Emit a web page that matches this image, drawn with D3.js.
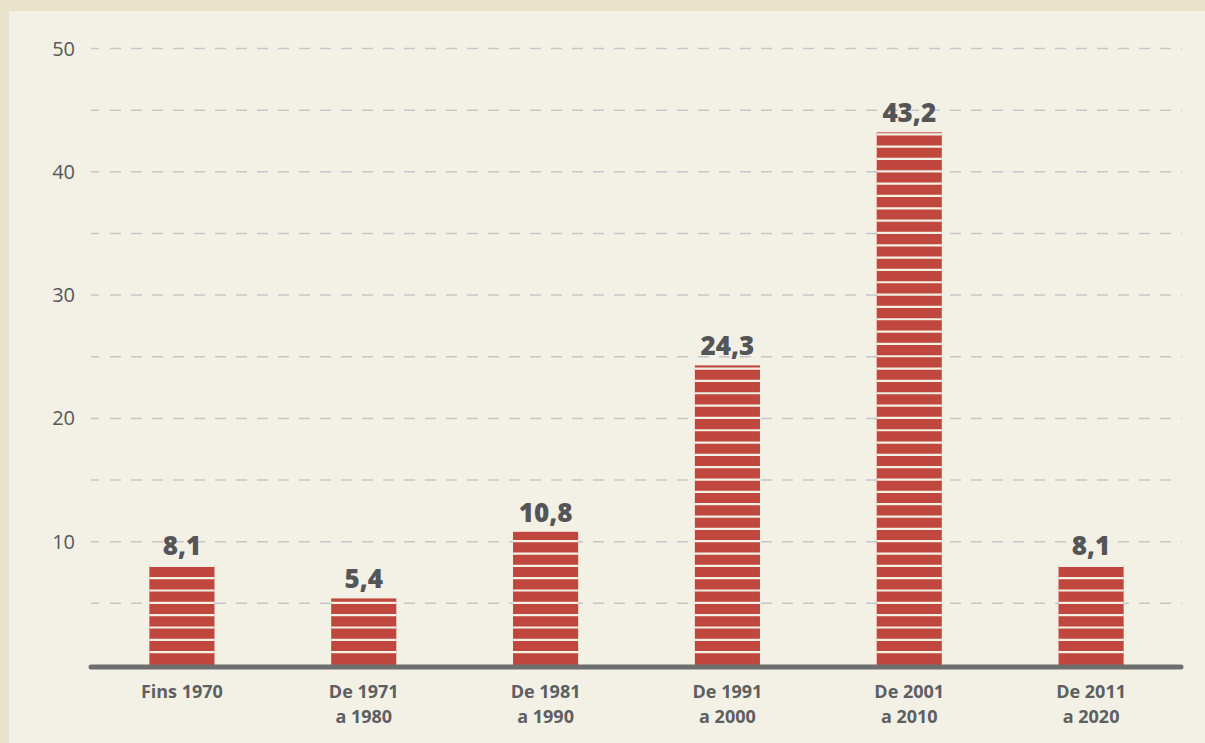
<!DOCTYPE html>
<html>
<head>
<meta charset="utf-8">
<script src="https://cdn.jsdelivr.net/npm/d3@7"></script>
<style>
  body { margin: 0; background: #e8e2cb; }
  svg { display: block; }
  text { font-family: "Open Sans", Lato, sans-serif; }
</style>
</head>
<body>
<svg id="chart" width="1205" height="743"></svg>
<script>
// categories (two-line labels) and values
var categories = ["Fins 1970", "De 1971|a 1980", "De 1981|a 1990", "De 1991|a 2000", "De 2001|a 2010", "De 2011|a 2020"];
var values = [8.1, 5.4, 10.8, 24.3, 43.2, 8.1];
var valueLabels = ["8,1", "5,4", "10,8", "24,3", "43,2", "8,1"];
var yTicks = [10, 20, 30, 40, 50];
var gridValues = [5, 10, 15, 20, 25, 30, 35, 40, 45, 50];

var svg = d3.select("#chart");

// panel
svg.append("rect")
    .attr("x", 9).attr("y", 11)
    .attr("width", 1205 - 9).attr("height", 743 - 11)
    .attr("fill", "#f3f0e6");

var x = d3.scaleBand()
    .domain(categories)
    .range([91, 1182])
    .paddingInner(0.642)
    .paddingOuter(0.321);

var y = d3.scaleLinear()
    .domain([0, 50])
    .range([665, 48.5]);

// dashed grid: short first dash, then regular dashes
var dash = "8,11";
for (var k = 0; k < 60; k++) dash += ",11,10";

svg.append("g").selectAll("line")
    .data(gridValues)
    .enter().append("line")
    .attr("x1", 91).attr("x2", 1182)
    .attr("y1", function(d) { return y(d); })
    .attr("y2", function(d) { return y(d); })
    .attr("stroke", "#c6c6c8")
    .attr("stroke-width", 1.5)
    .attr("stroke-dasharray", dash);

// y tick labels
svg.append("g").selectAll("text")
    .data(yTicks)
    .enter().append("text")
    .attr("x", 75)
    .attr("y", function(d) { return y(d) + 7; })
    .attr("text-anchor", "end")
    .attr("font-size", 20)
    .attr("fill", "#57585a")
    .text(function(d) { return d; });

// bars
var bars = svg.append("g").selectAll("g")
    .data(values)
    .enter().append("g");

bars.append("rect")
    .attr("x", function(d, i) { return x(categories[i]); })
    .attr("y", function(d) { return y(d); })
    .attr("width", x.bandwidth())
    .attr("height", function(d) { return y(0) - y(d); })
    .attr("fill", "#c0473d");

// white stripes at each whole unit
bars.each(function(d, i) {
    d3.select(this).selectAll("line.stripe")
        .data(d3.range(1, Math.floor(d) + 1))
        .enter().append("line")
        .attr("class", "stripe")
        .attr("x1", x(categories[i]))
        .attr("x2", x(categories[i]) + x.bandwidth())
        .attr("y1", function(v) { return y(v) - 0.5; })
        .attr("y2", function(v) { return y(v) - 0.5; })
        .attr("stroke", "#f3f0e6")
        .attr("stroke-width", 2.2);
});

// value labels
bars.append("text")
    .attr("x", function(d, i) { return x(categories[i]) + x.bandwidth() / 2; })
    .attr("y", function(d) { return y(d) - 10; })
    .attr("text-anchor", "middle")
    .attr("font-size", 26)
    .attr("font-weight", 800)
    .attr("fill", "#535557")
    .text(function(d, i) { return valueLabels[i]; });

// baseline
svg.append("line")
    .attr("x1", 91).attr("x2", 1181)
    .attr("y1", y(0) + 2).attr("y2", y(0) + 2)
    .attr("stroke", "#6e6e6f")
    .attr("stroke-width", 5)
    .attr("stroke-linecap", "round");

// x labels, one text per line
var xl = svg.append("g").selectAll("g")
    .data(categories)
    .enter().append("g");

xl.selectAll("text")
    .data(function(d) { return d.split("|").map(function(t) { return { cat: d, t: t }; }); })
    .enter().append("text")
    .attr("x", function(d) { return x(d.cat) + x.bandwidth() / 2; })
    .attr("y", function(d, i) { return 698 + i * 25; })
    .attr("text-anchor", "middle")
    .attr("font-size", 18)
    .attr("font-weight", 700)
    .attr("fill", "#5e5f61")
    .text(function(d) { return d.t; });
</script>
</body>
</html>
